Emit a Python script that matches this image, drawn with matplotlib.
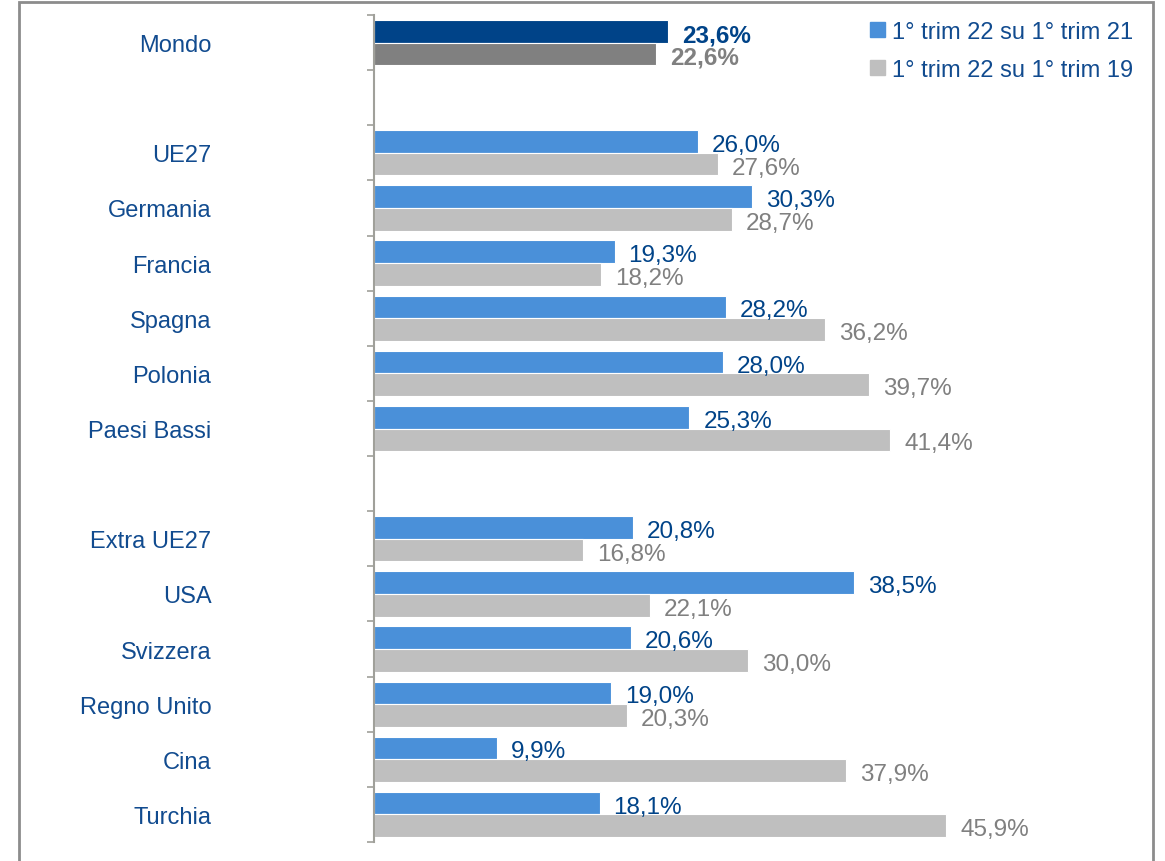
import numpy as np
import matplotlib
matplotlib.use("Agg")
import matplotlib.pyplot as plt
from matplotlib.patches import Rectangle

plt.rcParams['font.family'] = ['Liberation Sans', 'DejaVu Sans']

# dati
paesi = ['Mondo', '', 'UE27', 'Germania', 'Francia', 'Spagna', 'Polonia', 'Paesi Bassi',
         '', 'Extra UE27', 'USA', 'Svizzera', 'Regno Unito', 'Cina', 'Turchia']
su_21 = [23.6, None, 26.0, 30.3, 19.3, 28.2, 28.0, 25.3,
         None, 20.8, 38.5, 20.6, 19.0, 9.9, 18.1]
su_19 = [22.6, None, 27.6, 28.7, 18.2, 36.2, 39.7, 41.4,
         None, 16.8, 22.1, 30.0, 20.3, 37.9, 45.9]
legenda = ['1° trim 22 su 1° trim 21', '1° trim 22 su 1° trim 19']

blu = '#4a90d9'
grigio = '#bfbfbf'
blu_scuro = '#004388'
grigio_scuro = '#808080'
testo_blu = '#114b8f'

fig = plt.figure(figsize=(11.65, 8.62), dpi=100)
ax = fig.add_axes([374 / 1165, 1 - 843 / 862, 748 / 1165, 827 / 862])

h = 0.41
for i, (a, b) in enumerate(zip(su_21, su_19)):
    if a is None:
        continue
    mondo = (i == 0)
    c1 = blu_scuro if mondo else blu
    c2 = grigio_scuro if mondo else grigio
    ax.barh(i - h / 2, a, height=h, color=c1, edgecolor='white', linewidth=0.8)
    ax.barh(i + h / 2, b, height=h, color=c2, edgecolor='white', linewidth=0.8)
    fw = 'bold' if mondo else 'normal'
    ax.annotate(f'{a:.1f}%'.replace('.', ','), (a, i - h / 2), xytext=(10, -2.5),
                textcoords='offset points', va='center', ha='left',
                fontsize=17.5, color=blu_scuro, fontweight=fw)
    ax.annotate(f'{b:.1f}%'.replace('.', ','), (b, i + h / 2), xytext=(10, -2.5),
                textcoords='offset points', va='center', ha='left',
                fontsize=17.5, color=grigio_scuro, fontweight=fw)

ax.set_xlim(0, 60)
ax.set_ylim(len(paesi) - 0.5, -0.5)
ax.set_xticks([])

# tacche ai bordi delle categorie, etichette al centro
ax.set_yticks(np.arange(len(paesi) + 1) - 0.5)
ax.set_yticklabels([])
ax.set_yticks(np.arange(len(paesi)), minor=True)
ax.set_yticklabels(paesi, minor=True, fontsize=17, color=testo_blu)
ax.tick_params(axis='y', which='major', length=5, width=1.2, color='#a0a09a', direction='out')
ax.tick_params(axis='y', which='minor', length=0, pad=117)

for s in ['top', 'right', 'bottom']:
    ax.spines[s].set_visible(False)
ax.spines['left'].set_color('#a0a09a')
ax.spines['left'].set_linewidth(1.5)

hb = plt.Rectangle((0, 0), 1, 1, color=blu)
hg = plt.Rectangle((0, 0), 1, 1, color=grigio)
fig.legend([hb, hg], legenda, loc='upper right', bbox_to_anchor=(1154 / 1165, 1 - 1 / 862),
           frameon=False, fontsize=17, labelcolor=testo_blu, handlelength=0.6,
           handleheight=0.6, handletextpad=0.3, labelspacing=0.68)

# cornice
fig.add_artist(Rectangle((19 / 1165, -0.05), (1153 - 19) / 1165, 1.05 - 3 / 862,
                         transform=fig.transFigure, fill=False,
                         edgecolor='#8c8c8c', linewidth=2))

fig.savefig('out.png', dpi=100)
